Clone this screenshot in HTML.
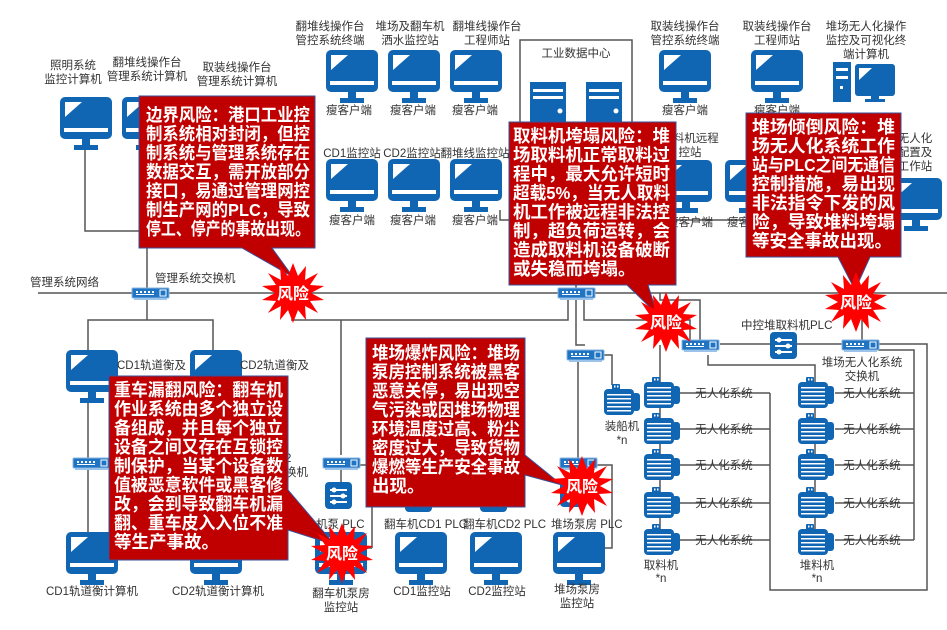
<!DOCTYPE html>
<html><head><meta charset="utf-8"><style>
html,body{margin:0;padding:0;background:#fff;}
svg{display:block;}
.l{font-family:"Liberation Sans","Noto Sans CJK SC",sans-serif;font-size:11.5px;fill:#333;}
.c{font-family:"Liberation Sans","Noto Sans CJK SC",sans-serif;font-size:17.5px;font-weight:bold;fill:#fff;}
.r{font-family:"Liberation Sans","Noto Sans CJK SC",sans-serif;font-size:16px;font-weight:bold;fill:#fff;}
</style></head><body>
<svg width="947" height="630" viewBox="0 0 947 630" xmlns="http://www.w3.org/2000/svg">
<defs>
<g id="mon">
<rect x="0" y="0" width="52" height="42" rx="5" fill="#1166b4"/>
<polygon points="5,5 22,5 5,20" fill="#fff"/>
<rect x="4" y="31" width="44" height="4" fill="#fff"/>
<rect x="22" y="42" width="8" height="7" fill="#1166b4"/>
<rect x="14" y="48" width="24" height="5" fill="#1166b4"/>
</g>
<g id="sw">
<rect x="0" y="0" width="37" height="10" rx="1" fill="#1f74c4" stroke="#8ab4e0" stroke-width="1"/>
<g fill="#fff"><rect x="4" y="3" width="2" height="2"/><rect x="8" y="3" width="2" height="2"/><rect x="12" y="3" width="2" height="2"/><rect x="16" y="3" width="2" height="2"/><rect x="20" y="3" width="2" height="2"/><rect x="4" y="6" width="18" height="1"/></g>
<rect x="28" y="2" width="6" height="6" fill="none" stroke="#fff" stroke-width="1"/>
<rect x="2" y="10" width="33" height="2" fill="#9cc3ea"/>
</g>
<g id="mach">
<rect x="8" y="0" width="8" height="6" rx="1" fill="#1166b4"/>
<rect x="0" y="5" width="30" height="26" rx="4" fill="#1166b4"/>
<rect x="28" y="9" width="8" height="18" rx="3" fill="#1166b4"/>
<g fill="#fff"><rect x="3" y="10" width="24" height="1.5"/><rect x="3" y="14" width="24" height="1.5"/><rect x="3" y="18" width="24" height="1.5"/><rect x="3" y="22" width="24" height="1.5"/><rect x="3" y="26" width="24" height="1.5"/><rect x="10" y="1.5" width="1.5" height="2"/><rect x="13" y="1.5" width="1.5" height="2"/></g>
</g>
<g id="plc">
<rect x="0" y="0" width="27" height="27" rx="4" fill="#1166b4"/>
<g stroke="#fff" stroke-width="2" fill="none"><line x1="5" y1="8" x2="22" y2="8"/><line x1="5" y1="14" x2="22" y2="14"/><line x1="5" y1="20" x2="22" y2="20"/></g>
<circle cx="9" cy="8" r="2.5" fill="#fff"/><circle cx="18" cy="14" r="2.5" fill="#fff"/><circle cx="9" cy="20" r="2.5" fill="#fff"/>
</g>
<polygon id="star" points="0,-30 5,-17 13,-27 12,-13 25,-20 17,-8 31,-7 18,0 31,7 17,8 25,20 12,13 13,27 5,17 0,30 -5,17 -13,27 -12,13 -25,20 -17,8 -31,7 -18,0 -31,-7 -17,-8 -25,-20 -12,-13 -13,-27 -5,-17" fill="#ff0000"/>
</defs>

<!-- connectors -->
<g stroke="#555" stroke-width="1.5" fill="none">
<line x1="38" y1="293" x2="947" y2="293"/>
<polyline points="85,150 85,231 147,231"/>
<line x1="147" y1="150" x2="147" y2="293"/>
<line x1="147" y1="293" x2="147" y2="320"/>
<polyline points="88,350 88,320 213,320 213,350"/>
<line x1="88" y1="400" x2="88" y2="532"/>
<line x1="213" y1="400" x2="213" y2="532"/>
<rect x="520" y="40" width="112" height="90"/>
<line x1="576" y1="130" x2="576" y2="288"/>
<polyline points="568,298 568,320 291,320 341,320 341,338 341,455"/>
<polyline points="576,298 576,345 585,345"/>
<polyline points="584,298 584,320 690,320 690,345"/>
<polyline points="341,470 341,485"/>
<polyline points="360,465 372,465 372,548"/>
<polyline points="365,548 372,548"/>
<line x1="578" y1="360" x2="578" y2="460"/>
<polyline points="600,355 612,355 612,385"/>
<polyline points="595,465 612,465 612,548 602,548"/>
<polyline points="660,293 660,300 700,300 700,340"/>
<line x1="660" y1="345" x2="660" y2="548"/>
<polyline points="708,355 708,365 815,365 815,548"/>
<line x1="720" y1="344" x2="842" y2="344"/>
<polyline points="878,344 927,344 927,590 770,590 770,393"/>
<line x1="862" y1="293" x2="862" y2="340"/>
<polyline points="878,350 914,350 914,540"/>
<g>
<line x1="680" y1="393" x2="770" y2="393"/><line x1="680" y1="429" x2="770" y2="429"/><line x1="680" y1="465" x2="770" y2="465"/><line x1="680" y1="503" x2="770" y2="503"/><line x1="680" y1="540" x2="770" y2="540"/>
<line x1="835" y1="393" x2="914" y2="393"/><line x1="835" y1="429" x2="914" y2="429"/><line x1="835" y1="465" x2="914" y2="465"/><line x1="835" y1="503" x2="914" y2="503"/><line x1="835" y1="540" x2="914" y2="540"/>
</g>
<polyline points="500,210 500,220 520,220"/>
<polyline points="632,220 700,220 800,220"/>
</g>

<!-- top row -->
<text class="l" x="73" y="69" text-anchor="middle">照明系统</text>
<text class="l" x="73" y="83" text-anchor="middle">监控计算机</text>
<text class="l" x="147" y="66" text-anchor="middle">翻堆线操作台</text>
<text class="l" x="147" y="80" text-anchor="middle">管理系统计算机</text>
<text class="l" x="237" y="71" text-anchor="middle">取装线操作台</text>
<text class="l" x="237" y="85" text-anchor="middle">管理系统计算机</text>
<use href="#mon" x="60" y="97"/>
<use href="#mon" x="122" y="97"/>

<text class="l" x="330" y="30" text-anchor="middle">翻堆线操作台</text>
<text class="l" x="330" y="44" text-anchor="middle">管控系统终端</text>
<text class="l" x="410" y="30" text-anchor="middle">堆场及翻车机</text>
<text class="l" x="410" y="44" text-anchor="middle">洒水监控站</text>
<text class="l" x="487" y="30" text-anchor="middle">翻堆线操作台</text>
<text class="l" x="487" y="44" text-anchor="middle">工程师站</text>
<use href="#mon" x="326" y="50"/><use href="#mon" x="388" y="50"/><use href="#mon" x="450" y="50"/>
<text class="l" x="349" y="114" text-anchor="middle">瘦客户端</text>
<text class="l" x="413" y="114" text-anchor="middle">瘦客户端</text>
<text class="l" x="475" y="114" text-anchor="middle">瘦客户端</text>

<text class="l" x="352" y="157" text-anchor="middle">CD1监控站</text>
<text class="l" x="412" y="157" text-anchor="middle">CD2监控站</text>
<text class="l" x="475" y="157" text-anchor="middle">翻堆线监控站</text>
<use href="#mon" x="326" y="159"/><use href="#mon" x="388" y="159"/><use href="#mon" x="450" y="159"/>
<text class="l" x="352" y="224" text-anchor="middle">瘦客户端</text>
<text class="l" x="413" y="224" text-anchor="middle">瘦客户端</text>
<text class="l" x="475" y="224" text-anchor="middle">瘦客户端</text>

<text class="l" x="576" y="57" text-anchor="middle">工业数据中心</text>
<g fill="#1166b4"><rect x="530" y="82" width="36" height="45"/><rect x="586" y="82" width="36" height="45"/></g>
<g fill="#fff"><rect x="533" y="89" width="30" height="3"/><rect x="533" y="96" width="30" height="3"/><rect x="589" y="89" width="30" height="3"/><rect x="589" y="96" width="30" height="3"/><circle cx="560" cy="111" r="2.5"/><circle cx="616" cy="111" r="2.5"/></g>

<text class="l" x="685" y="30" text-anchor="middle">取装线操作台</text>
<text class="l" x="685" y="44" text-anchor="middle">管控系统终端</text>
<text class="l" x="777" y="30" text-anchor="middle">取装线操作台</text>
<text class="l" x="777" y="44" text-anchor="middle">工程师站</text>
<text class="l" x="866" y="30" text-anchor="middle">堆场无人化操作</text>
<text class="l" x="866" y="44" text-anchor="middle">监控及可视化终</text>
<text class="l" x="866" y="58" text-anchor="middle">端计算机</text>
<use href="#mon" x="659" y="50"/><use href="#mon" x="751" y="50"/>
<text class="l" x="685" y="114" text-anchor="middle">瘦客户端</text>
<text class="l" x="777" y="114" text-anchor="middle">瘦客户端</text>
<rect x="833" y="62" width="18" height="40" fill="#1166b4"/>
<g fill="#fff"><rect x="836" y="68" width="12" height="3"/><rect x="836" y="76" width="12" height="3"/><rect x="840" y="86" width="3" height="3"/></g>
<rect x="855" y="64" width="40" height="32" rx="3" fill="#1166b4"/>
<polygon points="859,68 872,68 859,80" fill="#fff"/>
<rect x="871" y="96" width="8" height="4" fill="#1166b4"/><rect x="865" y="99" width="20" height="3" fill="#1166b4"/>
<text class="l" x="690" y="142" text-anchor="middle">取料机远程</text>
<text class="l" x="690" y="156" text-anchor="middle">控站</text>
<use href="#mon" x="660" y="160"/><use href="#mon" x="725" y="160"/>
<text class="l" x="690" y="226" text-anchor="middle">瘦客户端</text>
<text class="l" x="750" y="226" text-anchor="middle">瘦客户端</text>
<text class="l" x="915" y="142" text-anchor="middle">无人化</text>
<text class="l" x="915" y="156" text-anchor="middle">配置及</text>
<text class="l" x="915" y="170" text-anchor="middle">工作站</text>
<use href="#mon" x="890" y="178"/>

<!-- network -->
<text class="l" x="30" y="286">管理系统网络</text>
<text class="l" x="155" y="282">管理系统交换机</text>
<use href="#sw" x="132" y="288"/>
<use href="#sw" x="558" y="288"/>

<!-- lower left -->
<use href="#mon" x="66" y="350"/><use href="#mon" x="190" y="350"/>
<text class="l" x="117" y="369">CD1轨道衡及</text>
<text class="l" x="240" y="369">CD2轨道衡及</text>
<use href="#sw" x="73" y="458"/>
<text class="l" x="285" y="462">2</text>
<text class="l" x="285" y="476">换机</text>
<use href="#mon" x="66" y="532"/><use href="#mon" x="190" y="532"/>
<text class="l" x="92" y="595" text-anchor="middle">CD1轨道衡计算机</text>
<text class="l" x="218" y="595" text-anchor="middle">CD2轨道衡计算机</text>

<!-- lower middle -->
<use href="#sw" x="323" y="458"/>
<use href="#plc" x="325" y="482"/>
<text class="l" x="316" y="528">机泵 PLC</text>
<use href="#mon" x="315" y="532"/>
<text class="l" x="341" y="597" text-anchor="middle">翻车机泵房</text>
<text class="l" x="341" y="611" text-anchor="middle">监控站</text>
<use href="#plc" x="405" y="485"/><use href="#plc" x="480" y="485"/>
<text class="l" x="384" y="528">翻车机CD1  PLC</text>
<text class="l" x="463" y="528">翻车机CD2  PLC</text>
<use href="#mon" x="395" y="532"/><use href="#mon" x="470" y="532"/>
<text class="l" x="422" y="595" text-anchor="middle">CD1监控站</text>
<text class="l" x="497" y="595" text-anchor="middle">CD2监控站</text>
<use href="#sw" x="560" y="458"/>
<use href="#sw" x="567" y="350"/>
<use href="#plc" x="560" y="480"/>
<text class="l" x="551" y="528">堆场泵房  PLC</text>
<use href="#mon" x="553" y="532"/>
<text class="l" x="577" y="593" text-anchor="middle">堆场泵房</text>
<text class="l" x="577" y="607" text-anchor="middle">监控站</text>
<use href="#mach" x="604" y="384"/>
<text class="l" x="622" y="430" text-anchor="middle">装船机</text>
<text class="l" x="622" y="444" text-anchor="middle">*n</text>

<!-- right bottom -->
<use href="#sw" x="682" y="340"/>
<text class="l" x="741" y="329">中控堆取料机PLC</text>
<use href="#plc" x="770" y="332"/>
<use href="#sw" x="842" y="340"/>
<text class="l" x="862" y="366" text-anchor="middle">堆场无人化系统</text>
<text class="l" x="862" y="380" text-anchor="middle">交换机</text>
<use href="#mach" x="644" y="377"/><use href="#mach" x="644" y="413"/><use href="#mach" x="644" y="449"/><use href="#mach" x="644" y="487"/><use href="#mach" x="644" y="524"/>
<use href="#mach" x="798" y="377"/><use href="#mach" x="798" y="413"/><use href="#mach" x="798" y="449"/><use href="#mach" x="798" y="487"/><use href="#mach" x="798" y="524"/>
<g class="l" text-anchor="middle">
<text x="724" y="397">无人化系统</text><text x="724" y="433">无人化系统</text><text x="724" y="469">无人化系统</text><text x="724" y="507">无人化系统</text><text x="724" y="544">无人化系统</text>
<text x="872" y="397">无人化系统</text><text x="872" y="433">无人化系统</text><text x="872" y="469">无人化系统</text><text x="872" y="507">无人化系统</text><text x="872" y="544">无人化系统</text>
<text x="661" y="569">取料机</text><text x="661" y="582">*n</text>
<text x="817" y="569">堆料机</text><text x="817" y="582">*n</text>
</g>

<!-- callouts -->
<g fill="#c00000" stroke="#3a4f9a" stroke-width="1">
<polygon points="139,96 315,96 315,248 272,248 293,277 242,248 139,248"/>
<polygon points="509,122 676,122 676,285 648,285 657,314 627,285 509,285"/>
<polygon points="746,113 901,113 901,257 870,257 855,290 838,257 746,257"/>
<polygon points="109,376 288,376 288,490 335,545 288,530 288,560 109,560"/>
<polygon points="366,338 525,338 525,455 562,485 525,475 525,507 366,507"/>
</g>
<g class="c">
<text x="146" y="121" textLength="164" lengthAdjust="spacingAndGlyphs">边界风险：港口工业控</text>
<text x="146" y="140" textLength="164" lengthAdjust="spacingAndGlyphs">制系统相对封闭，但控</text>
<text x="146" y="159" textLength="164" lengthAdjust="spacingAndGlyphs">制系统与管理系统存在</text>
<text x="146" y="178" textLength="164" lengthAdjust="spacingAndGlyphs">数据交互，需开放部分</text>
<text x="146" y="197" textLength="164" lengthAdjust="spacingAndGlyphs">接口，易通过管理网控</text>
<text x="146" y="216" textLength="164" lengthAdjust="spacingAndGlyphs">制生产网的PLC，导致</text>
<text x="146" y="235" textLength="164" lengthAdjust="spacingAndGlyphs">停工、停产的事故出现。</text>

<text x="513" y="142" textLength="157" lengthAdjust="spacingAndGlyphs">取料机垮塌风险：堆</text>
<text x="513" y="161" textLength="157" lengthAdjust="spacingAndGlyphs">场取料机正常取料过</text>
<text x="513" y="180" textLength="157" lengthAdjust="spacingAndGlyphs">程中，最大允许短时</text>
<text x="513" y="199" textLength="157" lengthAdjust="spacingAndGlyphs">超载5%，当无人取料</text>
<text x="513" y="218" textLength="157" lengthAdjust="spacingAndGlyphs">机工作被远程非法控</text>
<text x="513" y="237" textLength="157" lengthAdjust="spacingAndGlyphs">制，超负荷运转，会</text>
<text x="513" y="256" textLength="157" lengthAdjust="spacingAndGlyphs">造成取料机设备破断</text>
<text x="513" y="275">或失稳而垮塌。</text>

<text x="752" y="133" textLength="143" lengthAdjust="spacingAndGlyphs">堆场倾倒风险：堆</text>
<text x="752" y="152" textLength="143" lengthAdjust="spacingAndGlyphs">场无人化系统工作</text>
<text x="752" y="171" textLength="143" lengthAdjust="spacingAndGlyphs">站与PLC之间无通信</text>
<text x="752" y="190" textLength="143" lengthAdjust="spacingAndGlyphs">控制措施，易出现</text>
<text x="752" y="209" textLength="143" lengthAdjust="spacingAndGlyphs">非法指令下发的风</text>
<text x="752" y="228" textLength="143" lengthAdjust="spacingAndGlyphs">险，导致堆料垮塌</text>
<text x="752" y="247">等安全事故出现。</text>

<text x="114" y="396" textLength="169" lengthAdjust="spacingAndGlyphs">重车漏翻风险：翻车机</text>
<text x="114" y="415" textLength="169" lengthAdjust="spacingAndGlyphs">作业系统由多个独立设</text>
<text x="114" y="434" textLength="169" lengthAdjust="spacingAndGlyphs">备组成，并且每个独立</text>
<text x="114" y="453" textLength="169" lengthAdjust="spacingAndGlyphs">设备之间又存在互锁控</text>
<text x="114" y="472" textLength="169" lengthAdjust="spacingAndGlyphs">制保护，当某个设备数</text>
<text x="114" y="491" textLength="169" lengthAdjust="spacingAndGlyphs">值被恶意软件或黑客修</text>
<text x="114" y="510" textLength="169" lengthAdjust="spacingAndGlyphs">改，会到导致翻车机漏</text>
<text x="114" y="529" textLength="169" lengthAdjust="spacingAndGlyphs">翻、重车皮入入位不准</text>
<text x="114" y="548">等生产事故。</text>

<text x="372" y="359" textLength="148" lengthAdjust="spacingAndGlyphs">堆场爆炸风险：堆场</text>
<text x="372" y="378" textLength="148" lengthAdjust="spacingAndGlyphs">泵房控制系统被黑客</text>
<text x="372" y="397" textLength="148" lengthAdjust="spacingAndGlyphs">恶意关停，易出现空</text>
<text x="372" y="416" textLength="148" lengthAdjust="spacingAndGlyphs">气污染或因堆场物理</text>
<text x="372" y="435" textLength="148" lengthAdjust="spacingAndGlyphs">环境温度过高、粉尘</text>
<text x="372" y="454" textLength="148" lengthAdjust="spacingAndGlyphs">密度过大，导致货物</text>
<text x="372" y="473" textLength="148" lengthAdjust="spacingAndGlyphs">爆燃等生产安全事故</text>
<text x="372" y="492">出现。</text>
</g>

<!-- stars -->
<use href="#star" x="293" y="293"/><text class="r" x="293" y="299" text-anchor="middle">风险</text>
<use href="#star" x="666" y="322"/><text class="r" x="666" y="328" text-anchor="middle">风险</text>
<use href="#star" x="856" y="302"/><text class="r" x="856" y="308" text-anchor="middle">风险</text>
<use href="#star" x="342" y="553"/><text class="r" x="342" y="559" text-anchor="middle">风险</text>
<use href="#star" x="582" y="486"/><text class="r" x="582" y="492" text-anchor="middle">风险</text>
</svg>
</body></html>
